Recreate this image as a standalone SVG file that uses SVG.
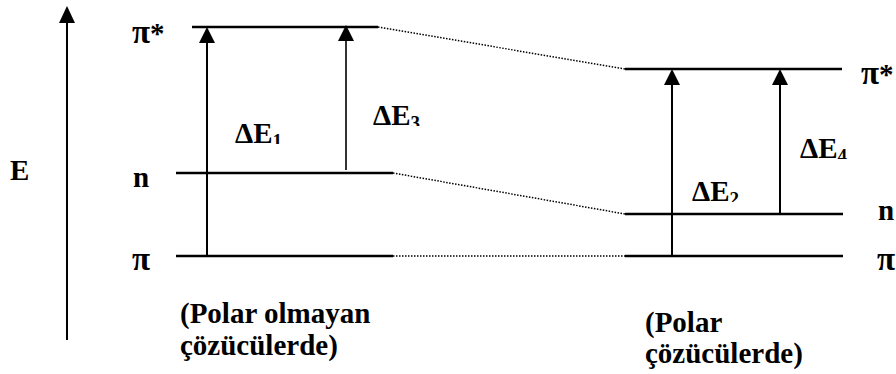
<svg xmlns="http://www.w3.org/2000/svg" width="896" height="374" viewBox="0 0 896 374">
<style>
text{font-family:'Liberation Serif','DejaVu Serif',serif;font-weight:700;font-size:29px;fill:#000}
.s{font-size:19px}
.p{font-size:33px}
.lvl{stroke:#000;stroke-width:2.5;fill:none}
.arr{stroke:#000;stroke-width:2;fill:none}
.arr2{stroke:#000;stroke-width:1.6;fill:none}
.dot{stroke:#000;stroke-width:1.5;stroke-dasharray:1.5 1.5;fill:none}
</style>
<defs>
<clipPath id="c1"><rect x="220" y="100" width="90" height="44"/></clipPath>
<clipPath id="c3"><rect x="360" y="90" width="90" height="36"/></clipPath>
<clipPath id="c2"><rect x="680" y="170" width="90" height="32"/></clipPath>
<clipPath id="c4"><rect x="790" y="125" width="90" height="34"/></clipPath>
</defs>
<rect width="896" height="374" fill="#fff"/>
<g id="axis">
<line x1="67" y1="340" x2="67" y2="23" class="arr"/>
<path d="M59,23 L67,6 L75,23 Z" fill="#000"/>
<text x="10" y="180">E</text>
</g>
<g id="left-pistar">
<line x1="192" y1="27" x2="378" y2="27" class="lvl"/>
<text x="132" y="43"><tspan class="p">π</tspan>*</text>
</g>
<g id="left-n">
<line x1="176" y1="173" x2="393" y2="173" class="lvl"/>
<text x="133" y="187">n</text>
</g>
<g id="left-pi">
<line x1="176" y1="256" x2="393" y2="256" class="lvl"/>
<text x="132" y="270" class="p">π</text>
</g>
<g id="right-pistar">
<line x1="625" y1="69" x2="842" y2="69" class="lvl"/>
<text x="861" y="84"><tspan class="p">π</tspan>*</text>
</g>
<g id="right-n">
<line x1="625" y1="214" x2="843" y2="214" class="lvl"/>
<text x="878" y="220">n</text>
</g>
<g id="right-pi">
<line x1="625" y1="256" x2="843" y2="256" class="lvl"/>
<text x="877" y="270" class="p">π</text>
</g>
<g id="connectors">
<line x1="378" y1="27" x2="625" y2="69" class="dot"/>
<line x1="393" y1="173" x2="625" y2="214" class="dot"/>
<line x1="393" y1="256" x2="625" y2="256" class="dot"/>
<line x1="207" y1="256" x2="207" y2="42" class="arr"/>
<path d="M199,43 L207,27 L215,43 Z" fill="#000"/>
<line x1="346" y1="170" x2="346" y2="40" class="arr2"/>
<path d="M338,41 L346,25 L354,41 Z" fill="#000"/>
<line x1="672" y1="256" x2="672" y2="84" class="arr"/>
<path d="M664,85 L672,69 L680,85 Z" fill="#000"/>
<line x1="780" y1="214" x2="780" y2="84" class="arr"/>
<path d="M772,85 L780,69 L788,85 Z" fill="#000"/>
</g>
<g id="label-dE1" clip-path="url(#c1)"><text x="235" y="143">ΔE<tspan class="s" dy="4">1</tspan></text></g>
<g id="label-dE3" clip-path="url(#c3)"><text x="373" y="125">ΔE<tspan class="s" dy="4">3</tspan></text></g>
<g id="label-dE2" clip-path="url(#c2)"><text x="692" y="201">ΔE<tspan class="s" dy="4">2</tspan></text></g>
<g id="label-dE4" clip-path="url(#c4)"><text x="800" y="158">ΔE<tspan class="s" dy="4">4</tspan></text></g>
<g id="caption-left">
<text x="180" y="323">(Polar olmayan</text>
<text x="180" y="355">çözücülerde)</text>
</g>
<g id="caption-right">
<text x="645" y="332">(Polar</text>
<text x="645" y="363">çözücülerde)</text>
</g>
</svg>
